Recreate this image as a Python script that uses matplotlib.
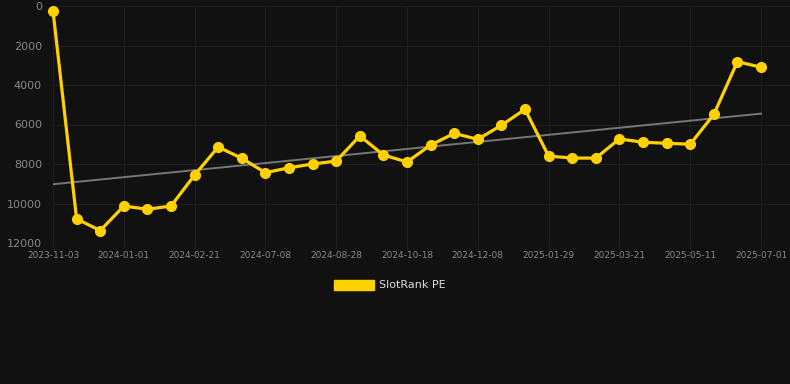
import numpy as np
import matplotlib
matplotlib.use('Agg')
from matplotlib import pyplot as plt
from matplotlib.patches import Patch

# SlotRank PE values (lower rank number = better, axis inverted)
rank_pe = [250, 10780, 11370, 10130, 10290, 10130, 8560, 7140, 7710, 8440,
           8190, 8000, 7850, 6580, 7540, 7900, 7040, 6450, 6750, 6040,
           5230, 7600, 7700, 7700, 6730, 6900, 6950, 7000, 5490, 2820,
           3100]
tick_labels = ['2023-11-03', '2024-01-01', '2024-02-21', '2024-07-08',
               '2024-08-28', '2024-10-18', '2024-12-08', '2025-01-29',
               '2025-03-21', '2025-05-11', '2025-07-01']
y_ticks = [0, 2000, 4000, 6000, 8000, 10000, 12000]

bg = '#111111'
gold = '#FFD100'

fig = plt.figure(figsize=(7.9, 3.84), dpi=100, facecolor=bg)
ax = fig.add_axes([53 / 790, 1 - 243 / 384, 1 - 53 / 790, (243 - 6) / 384])
ax.set_facecolor(bg)

x = np.arange(len(rank_pe))

# linear trend line
slope, intercept = np.polyfit(x, rank_pe, 1)
ax.plot(x, slope * x + intercept, color='#777777', linewidth=1.4, zorder=2)

ax.plot(x, rank_pe, color=gold, linewidth=2.3, marker='o', markersize=7,
        zorder=3, clip_on=False)

ax.set_ylim(12000, 0)
ax.set_xlim(0, 30 + 29 / 23.6)
ax.set_yticks(y_ticks)
ax.set_yticklabels([str(v) for v in y_ticks])
ax.set_xticks(x[::3])
ax.set_xticklabels(tick_labels)

ax.grid(True, color='#1f1f1f', linewidth=0.8)
ax.set_axisbelow(True)
for s in ax.spines.values():
    s.set_visible(False)
ax.tick_params(axis='y', colors='#888888', labelsize=8, length=0, pad=8)
ax.tick_params(axis='x', colors='#888888', labelsize=6.5, length=4,
               color='#1f1f1f', pad=2)

leg = fig.legend(handles=[Patch(facecolor=gold, edgecolor=gold, label='SlotRank PE')],
                 loc='center', bbox_to_anchor=(390 / 790, 1 - 285 / 384),
                 frameon=False, handlelength=3.6, handleheight=1.0,
                 handletextpad=0.5, fontsize=8)
for t in leg.get_texts():
    t.set_color('#dddddd')

fig.savefig('out.png', dpi=100, facecolor=bg)
